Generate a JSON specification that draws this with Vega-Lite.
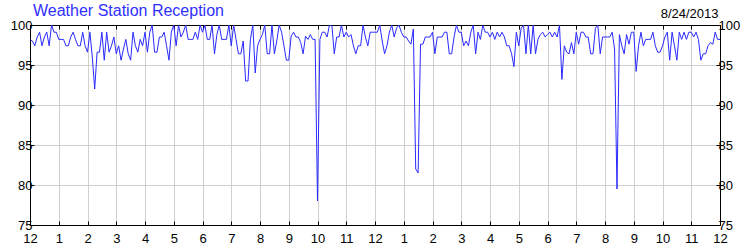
{
  "$schema": "https://vega.github.io/schema/vega-lite/v6.json",
  "width": 690,
  "height": 200,
  "autosize": {"type": "none"},
  "padding": {"left": 30, "top": 25, "right": 30, "bottom": 25},
  "background": "white",
  "title": {"text": "Weather Station Reception", "anchor": "start", "frame": "group", "font": "Liberation Sans", "fontSize": 16, "fontWeight": "normal", "color": "#3030ff", "dx": 3, "dy": 12, "offset": 0},
  "config": {
    "view": {"stroke": "#000000", "strokeWidth": 1},
    "axis": {"labelFont": "Liberation Sans", "labelFontSize": 13, "labelColor": "#000000", "tickColor": "#000000", "domainColor": "#000000", "gridColor": "#d0d0d0", "gridWidth": 1, "tickSize": -4, "titleFont": "Liberation Sans"}
  },
  "data": {"values": [
{"m":0,"v":98.2},{"m":5,"v":98},{"m":10,"v":97.4},{"m":15,"v":98.5},{"m":20,"v":99.1},{"m":25,"v":97.4},{"m":30,"v":98.5},{"m":35,"v":99.1},{"m":40,"v":97.4},{"m":45,"v":100},{"m":50,"v":99.1},{"m":55,"v":99.1},
{"m":60,"v":98.2},{"m":65,"v":98.2},{"m":70,"v":98.2},{"m":75,"v":97.4},{"m":80,"v":97.4},{"m":85,"v":98.5},{"m":90,"v":99.1},{"m":95,"v":98.2},{"m":100,"v":97.4},{"m":105,"v":97.4},{"m":110,"v":99.1},{"m":115,"v":97.4},
{"m":120,"v":96.6},{"m":125,"v":99.1},{"m":130,"v":96},{"m":135,"v":92},{"m":140,"v":96.6},{"m":145,"v":96.6},{"m":150,"v":99.1},{"m":155,"v":95.6},{"m":160,"v":99.1},{"m":165,"v":96.6},{"m":170,"v":97.4},{"m":175,"v":98.5},
{"m":180,"v":96.4},{"m":185,"v":97.4},{"m":190,"v":95.6},{"m":195,"v":97},{"m":200,"v":98.2},{"m":205,"v":96.4},{"m":210,"v":95.6},{"m":215,"v":99.1},{"m":220,"v":97.4},{"m":225,"v":96.6},{"m":230,"v":98.2},{"m":235,"v":97.4},
{"m":240,"v":99.1},{"m":245,"v":96.6},{"m":250,"v":99.1},{"m":255,"v":100},{"m":260,"v":96.6},{"m":265,"v":96.6},{"m":270,"v":98.5},{"m":275,"v":98.5},{"m":280,"v":99.1},{"m":285,"v":97.4},{"m":290,"v":95.6},{"m":295,"v":99.1},
{"m":300,"v":100},{"m":305,"v":97.4},{"m":310,"v":100},{"m":315,"v":98.5},{"m":320,"v":99.1},{"m":325,"v":100},{"m":330,"v":98.2},{"m":335,"v":98.2},{"m":340,"v":98.2},{"m":345,"v":99.1},{"m":350,"v":98.2},{"m":355,"v":100},
{"m":360,"v":99.1},{"m":365,"v":100},{"m":370,"v":98.2},{"m":375,"v":98.2},{"m":380,"v":100},{"m":385,"v":96.4},{"m":390,"v":98.8},{"m":395,"v":100},{"m":400,"v":98.2},{"m":405,"v":98.2},{"m":410,"v":98.2},{"m":415,"v":100},
{"m":420,"v":97.4},{"m":425,"v":100},{"m":430,"v":98.2},{"m":435,"v":96.4},{"m":440,"v":96.4},{"m":445,"v":98},{"m":450,"v":93},{"m":455,"v":93},{"m":460,"v":98.2},{"m":465,"v":100},{"m":470,"v":94},{"m":475,"v":97.4},
{"m":480,"v":98.2},{"m":485,"v":98.8},{"m":490,"v":100},{"m":495,"v":96.4},{"m":500,"v":96.4},{"m":505,"v":100},{"m":510,"v":96.4},{"m":515,"v":98},{"m":520,"v":100},{"m":525,"v":99.1},{"m":530,"v":97.4},{"m":535,"v":95.6},
{"m":540,"v":95.6},{"m":545,"v":98.6},{"m":550,"v":99.1},{"m":555,"v":98.5},{"m":560,"v":98.5},{"m":565,"v":97.8},{"m":570,"v":96.4},{"m":575,"v":98.6},{"m":580,"v":98.2},{"m":585,"v":98.8},{"m":590,"v":98.2},{"m":595,"v":98.2},
{"m":600,"v":78},{"m":605,"v":98.2},{"m":610,"v":99.1},{"m":615,"v":99.1},{"m":620,"v":98.5},{"m":625,"v":100},{"m":630,"v":100},{"m":635,"v":96.4},{"m":640,"v":98.5},{"m":645,"v":98.5},{"m":650,"v":100},{"m":655,"v":98.5},
{"m":660,"v":99.1},{"m":665,"v":98.5},{"m":670,"v":98.8},{"m":675,"v":97.4},{"m":680,"v":96.4},{"m":685,"v":97.4},{"m":690,"v":97.4},{"m":695,"v":100},{"m":700,"v":98.5},{"m":705,"v":97.4},{"m":710,"v":99.1},{"m":715,"v":99.1},
{"m":720,"v":99.1},{"m":725,"v":99.1},{"m":730,"v":100},{"m":735,"v":98},{"m":740,"v":96.4},{"m":745,"v":97.4},{"m":750,"v":99.1},{"m":755,"v":100},{"m":760,"v":98.5},{"m":765,"v":99.6},{"m":770,"v":100},{"m":775,"v":99.1},
{"m":780,"v":98.5},{"m":785,"v":98.5},{"m":790,"v":98},{"m":795,"v":97.6},{"m":800,"v":99.5},{"m":805,"v":82},{"m":810,"v":81.5},{"m":815,"v":97.6},{"m":820,"v":97.6},{"m":825,"v":98.5},{"m":830,"v":98.5},{"m":835,"v":98.5},
{"m":840,"v":99.1},{"m":845,"v":96.4},{"m":850,"v":98.5},{"m":855,"v":98.5},{"m":860,"v":98.5},{"m":865,"v":99.1},{"m":870,"v":99.1},{"m":875,"v":96.4},{"m":880,"v":96.4},{"m":885,"v":98.5},{"m":890,"v":100},{"m":895,"v":99.1},
{"m":900,"v":99.1},{"m":905,"v":97.4},{"m":910,"v":98},{"m":915,"v":97.4},{"m":920,"v":99.1},{"m":925,"v":100},{"m":930,"v":96.4},{"m":935,"v":99.1},{"m":940,"v":98.2},{"m":945,"v":100},{"m":950,"v":99.1},{"m":955,"v":99.1},
{"m":960,"v":98.5},{"m":965,"v":99.1},{"m":970,"v":98.2},{"m":975,"v":99.1},{"m":980,"v":98.5},{"m":985,"v":99.1},{"m":990,"v":98.5},{"m":995,"v":97.4},{"m":1000,"v":97.4},{"m":1005,"v":96.4},{"m":1010,"v":94.8},{"m":1015,"v":99.1},
{"m":1020,"v":97.4},{"m":1025,"v":99.6},{"m":1030,"v":100},{"m":1035,"v":96.4},{"m":1040,"v":100},{"m":1045,"v":96.4},{"m":1050,"v":100},{"m":1055,"v":96.4},{"m":1060,"v":98.2},{"m":1065,"v":98.8},{"m":1070,"v":99.1},{"m":1075,"v":98.5},
{"m":1080,"v":98.8},{"m":1085,"v":99.1},{"m":1090,"v":98.5},{"m":1095,"v":99.1},{"m":1100,"v":98.5},{"m":1105,"v":100},{"m":1110,"v":93.2},{"m":1115,"v":97.4},{"m":1120,"v":96.6},{"m":1125,"v":96.4},{"m":1130,"v":97.8},{"m":1135,"v":96.4},
{"m":1140,"v":99.1},{"m":1145,"v":97.6},{"m":1150,"v":99.1},{"m":1155,"v":99.1},{"m":1160,"v":98.5},{"m":1165,"v":98.5},{"m":1170,"v":96.4},{"m":1175,"v":96.4},{"m":1180,"v":99.6},{"m":1185,"v":100},{"m":1190,"v":96.4},{"m":1195,"v":98.5},
{"m":1200,"v":98.5},{"m":1205,"v":98.5},{"m":1210,"v":98.5},{"m":1215,"v":99.1},{"m":1220,"v":97},{"m":1225,"v":79.5},{"m":1230,"v":98.8},{"m":1235,"v":97.4},{"m":1240,"v":96.4},{"m":1245,"v":98.8},{"m":1250,"v":97.6},{"m":1255,"v":99.1},
{"m":1260,"v":99.1},{"m":1265,"v":94.2},{"m":1270,"v":97.4},{"m":1275,"v":99.1},{"m":1280,"v":97.4},{"m":1285,"v":98.2},{"m":1290,"v":98.2},{"m":1295,"v":98.2},{"m":1300,"v":99.1},{"m":1305,"v":97.4},{"m":1310,"v":96.6},{"m":1315,"v":96.6},
{"m":1320,"v":97.4},{"m":1325,"v":98.5},{"m":1330,"v":99.1},{"m":1335,"v":95.6},{"m":1340,"v":99.1},{"m":1345,"v":97.4},{"m":1350,"v":95.6},{"m":1355,"v":99.1},{"m":1360,"v":98.2},{"m":1365,"v":99.1},{"m":1370,"v":98.2},{"m":1375,"v":99.1},
{"m":1380,"v":99.1},{"m":1385,"v":98.5},{"m":1390,"v":99.1},{"m":1395,"v":98.2},{"m":1400,"v":95.6},{"m":1405,"v":96.4},{"m":1410,"v":96.4},{"m":1415,"v":97.4},{"m":1420,"v":97.8},{"m":1425,"v":97.6},{"m":1430,"v":99.1},{"m":1435,"v":98.2},
{"m":1440,"v":98.2}
  ]},
  "layer": [
    {
      "mark": {"type": "line", "color": "#2a2aff", "strokeWidth": 1, "clip": true},
      "encoding": {
        "x": {"field": "m", "type": "quantitative", "scale": {"domain": [0, 1440], "nice": false, "zero": false},
          "axis": {"orient": "bottom", "title": null, "values": [0,60,120,180,240,300,360,420,480,540,600,660,720,780,840,900,960,1020,1080,1140,1200,1260,1320,1380,1440], "labelExpr": "datum.value % 720 == 0 ? '12' : format((datum.value % 720) / 60, 'd')", "grid": true, "labelPadding": 11, "labelFlush": false, "labelOverlap": false}},
        "y": {"field": "v", "type": "quantitative", "scale": {"domain": [75, 100], "nice": false, "zero": false},
          "axis": {"orient": "left", "title": null, "values": [75, 80, 85, 90, 95, 100], "grid": true, "labelPadding": 2, "labelFlush": false}}
      }
    },
    {
      "mark": {"type": "line", "opacity": 0},
      "encoding": {
        "x": {"field": "m", "type": "quantitative", "scale": {"domain": [0, 1440], "nice": false, "zero": false},
          "axis": {"orient": "top", "title": "8/24/2013", "titleFontSize": 13, "titleFontWeight": "normal", "titleColor": "#000000", "titleAnchor": "end", "titleAlign": "right", "titleBaseline": "alphabetic", "titleX": 688, "titleY": -8, "values": [0,60,120,180,240,300,360,420,480,540,600,660,720,780,840,900,960,1020,1080,1140,1200,1260,1320,1380,1440], "labels": false, "grid": false}},
        "y": {"field": "v", "type": "quantitative", "scale": {"domain": [75, 100], "nice": false, "zero": false},
          "axis": {"orient": "right", "title": null, "values": [75, 80, 85, 90, 95, 100], "grid": false, "labelPadding": 2, "labelFlush": false}}
      }
    }
  ],
  "resolve": {"axis": {"x": "independent", "y": "independent"}}
}
